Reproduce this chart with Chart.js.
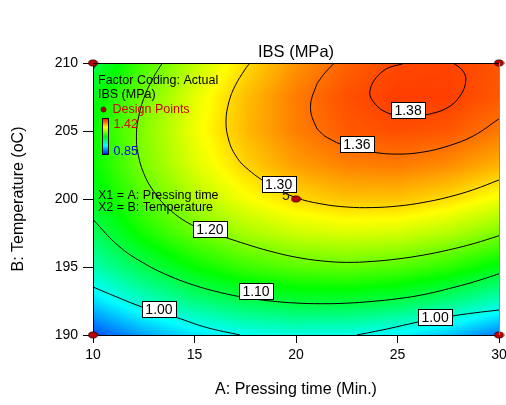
<!DOCTYPE html>
<html><head><meta charset="utf-8">
<script src="https://cdn.jsdelivr.net/npm/chart.js@4.4.0/dist/chart.umd.min.js"></script>
<style>html,body{margin:0;padding:0;background:#fff;}canvas{display:block;}</style>
</head><body>
<canvas id="c" width="506" height="405"></canvas>
<script>
// ---- data ----
const timeGrid = [10, 12.5, 15, 17.5, 20, 22.5, 25, 27.5, 30];          // A: Pressing time (min)
const tempGrid = [190, 192.5, 195, 197.5, 200, 202.5, 205, 207.5, 210]; // B: Temperature (oC)
const ibsGrid = [                                                        // IBS (MPa), rows = temperature
  [0.893, 0.942, 0.977, 1.000, 1.010, 1.006, 0.990, 0.960, 0.918],
  [0.973, 1.025, 1.065, 1.092, 1.105, 1.106, 1.094, 1.068, 1.030],
  [1.037, 1.093, 1.137, 1.168, 1.185, 1.190, 1.181, 1.160, 1.126],
  [1.085, 1.146, 1.193, 1.228, 1.250, 1.258, 1.254, 1.236, 1.206],
  [1.118, 1.183, 1.234, 1.273, 1.298, 1.311, 1.311, 1.297, 1.271],
  [1.135, 1.204, 1.259, 1.302, 1.332, 1.348, 1.352, 1.342, 1.320],
  [1.137, 1.209, 1.269, 1.316, 1.349, 1.370, 1.377, 1.372, 1.353],
  [1.123, 1.199, 1.263, 1.313, 1.351, 1.376, 1.386, 1.385, 1.371],
  [1.093, 1.174, 1.241, 1.296, 1.337, 1.366, 1.380, 1.383, 1.373]
];
const xTicks = [10, 15, 20, 25, 30];
const yTicks = [190, 195, 200, 205, 210];
const designPoints = [[10, 190], [10, 210], [30, 190], [30, 210], [20, 200]];
const centerRuns = "5";
const colorLow = 0.85, colorHigh = 1.42;

const contour138 = [[25.37,210],[24.29,209.41],[23.64,207.94],[23.99,206.84],[24.75,206.2],[25.6,206.0],[26.45,206.2],[27.44,206.69],[28.08,207.57],[28.37,208.75],[28.18,209.49],[27.73,210]];
const contour136 = [[21.89,210],[21.5,209.4],[21.25,208.94],[21,208.33],[20.71,206.73],[21,205.28],[21.25,204.85],[21.5,204.55],[22.5,203.85],[23.75,203.45],[25,203.3],[26.25,203.45],[27.5,203.9],[28.75,204.65],[30,205.9]];
const contour130 = [[17.73,210],[17.5,209.55],[17,208.32],[16.7,207.16],[16.55,205.67],[16.7,204.26],[17,203.26],[17.5,202.35],[18.75,201.0],[20,200.1],[21.25,199.64],[22.5,199.41],[23.75,199.37],[25,199.48],[26.25,199.74],[27.5,200.14],[28.75,200.69],[30,201.4]];
const contour120 = [[13.42,210],[13,209.0],[12.5,207.4],[12.2,205.68],[12.14,204.57],[12.2,203.45],[12.5,201.88],[13,200.54],[13.75,199.25],[14.86,198.1],[16,197.45],[17.5,196.7],[18.75,196.15],[20,195.72],[21.25,195.45],[22.5,195.34],[23.75,195.41],[25,195.59],[26.25,195.87],[27.5,196.25],[28.75,196.72],[30,197.3]];
const contour110 = [[10,198.49],[11.25,196.56],[12.5,195.28],[13.75,194.35],[15,193.65],[16.25,193.13],[17.5,192.75],[18.75,192.5],[20,192.35],[21.25,192.3],[22.5,192.34],[23.75,192.47],[25,192.67],[26.25,192.96],[27.5,193.4],[28.75,193.9],[30,194.5]];
const contour110corner = [[10,209.5],[10.25,210.1]];
const contour100left = [[10,193.53],[11.13,192.82],[12.41,192.06],[13.25,191.68],[14.09,191.3],[15.6,190.55],[17.24,190.0]];
const contour100right = [[23.0,190.0],[24.5,190.45],[26,190.95],[27.5,191.35],[28.75,191.62],[30,191.84]];

const labelText = ["1.38", "1.36", "1.30", "1.20", "1.10", "1.00", "1.00"];
const labelTime = [25.52, 23.0, 19.14, 15.76, 18.03, 13.25, 26.85];
const labelTemp = [206.54, 204.04, 201.07, 197.76, 193.2, 191.91, 191.32];

// ---- helpers ----
const FONT = '"Liberation Sans", Arial, sans-serif';
Chart.defaults.font.family = FONT;
Chart.defaults.color = '#000';

function ibsAt(t, T) {
  const nx = timeGrid.length, ny = tempGrid.length;
  t = Math.min(Math.max(t, timeGrid[0]), timeGrid[nx - 1]);
  T = Math.min(Math.max(T, tempGrid[0]), tempGrid[ny - 1]);
  let i = 0; while (i < nx - 2 && t > timeGrid[i + 1]) i++;
  let j = 0; while (j < ny - 2 && T > tempGrid[j + 1]) j++;
  const u = (t - timeGrid[i]) / (timeGrid[i + 1] - timeGrid[i]);
  const v = (T - tempGrid[j]) / (tempGrid[j + 1] - tempGrid[j]);
  return ibsGrid[j][i] * (1 - u) * (1 - v) + ibsGrid[j][i + 1] * u * (1 - v) +
         ibsGrid[j + 1][i] * (1 - u) * v + ibsGrid[j + 1][i + 1] * u * v;
}
function cmap(val) {
  let f = (val - colorLow) / (colorHigh - colorLow);
  f = Math.min(Math.max(f, 0), 1);
  if (f < 0.25) return [0, 255 * f / 0.25, 255];
  if (f < 0.5) return [0, 255, 255 * (1 - (f - 0.25) / 0.25)];
  if (f < 0.75) return [255 * (f - 0.5) / 0.25, 255, 0];
  return [255, 255 * (1 - (f - 0.75) / 0.25), 0];
}
const toXY = arr => arr.map(p => ({x: p[0], y: p[1]}));

// design point marker (small dark red ellipse)
const marker = document.createElement('canvas');
marker.width = 11; marker.height = 8;
(function () {
  const m = marker.getContext('2d');
  m.beginPath(); m.ellipse(5.5, 4, 4.5, 3, 0, 0, Math.PI * 2);
  m.fillStyle = '#c00000'; m.fill();
  m.lineWidth = 1; m.strokeStyle = '#400000'; m.stroke();
})();

const surfacePlugin = {
  id: 'surface',
  beforeDraw(chart) {
    const {ctx, chartArea: a, scales: {x, y}} = chart;
    const w = Math.round(a.right - a.left), h = Math.round(a.bottom - a.top);
    const off = document.createElement('canvas'); off.width = w; off.height = h;
    const o = off.getContext('2d'); const img = o.createImageData(w, h);
    for (let j = 0; j < h; j++) {
      const T = y.getValueForPixel(a.top + j + 0.5);
      for (let i = 0; i < w; i++) {
        const t = x.getValueForPixel(a.left + i + 0.5);
        const c = cmap(ibsAt(t, T));
        const k = (j * w + i) * 4;
        img.data[k] = c[0]; img.data[k + 1] = c[1]; img.data[k + 2] = c[2]; img.data[k + 3] = 255;
      }
    }
    o.putImageData(img, 0, 0);
    ctx.drawImage(off, a.left, a.top);
  },
  afterDatasetsDraw(chart) {
    const {ctx, chartArea: a, scales: {x, y}} = chart;
    ctx.save();
    // frame top / right
    ctx.lineWidth = 1;
    ctx.strokeStyle = '#000';
    ctx.beginPath(); ctx.moveTo(a.left, a.top + 0.5); ctx.lineTo(a.right, a.top + 0.5); ctx.stroke();
    ctx.strokeStyle = '#8a8a8a';
    ctx.beginPath(); ctx.moveTo(a.right + 0.5, a.top); ctx.lineTo(a.right + 0.5, a.bottom); ctx.stroke();
    // contour labels
    ctx.font = '14px ' + FONT;
    ctx.textAlign = 'center'; ctx.textBaseline = 'middle';
    for (let k = 0; k < labelText.length; k++) {
      const px = x.getPixelForValue(labelTime[k]);
      const py = y.getPixelForValue(labelTemp[k]);
      const bw = 34, bh = 16;
      const bx = Math.round(px - bw / 2) + 0.5, by = Math.round(py - bh / 2) + 0.5;
      ctx.fillStyle = '#fff'; ctx.fillRect(bx, by, bw, bh);
      ctx.strokeStyle = '#000'; ctx.strokeRect(bx, by, bw, bh);
      ctx.fillStyle = '#000'; ctx.fillText(labelText[k], px, py + 1);
    }
    ctx.restore();
  },
  afterDraw(chart) {
    const {ctx, chartArea: a, scales: {x, y}} = chart;
    ctx.save();
    // title
    ctx.fillStyle = '#000';
    ctx.font = '16.5px ' + FONT; ctx.textAlign = 'center'; ctx.textBaseline = 'alphabetic';
    ctx.fillText('IBS (MPa)', (a.left + a.right) / 2, 56.5);
    // replicate count at the centre point
    ctx.font = '14px ' + FONT; ctx.fillStyle = '#222';
    ctx.textBaseline = 'middle';
    ctx.fillText(centerRuns, x.getPixelForValue(designPoints[4][0]) - 10, y.getPixelForValue(designPoints[4][1]) - 2.5);
    // legend block
    ctx.textAlign = 'left'; ctx.textBaseline = 'alphabetic';
    ctx.font = '12.5px ' + FONT; ctx.fillStyle = '#000';
    ctx.fillText('Factor Coding: Actual', 98, 84);
    ctx.fillText('IBS (MPa)', 98, 98);
    ctx.beginPath(); ctx.arc(103.5, 109.5, 2.5, 0, Math.PI * 2);
    ctx.fillStyle = '#b00000'; ctx.fill(); ctx.strokeStyle = '#500000'; ctx.lineWidth = 0.8; ctx.stroke();
    ctx.fillStyle = '#d00000';
    ctx.fillText('Design Points', 112.5, 112.5);
    // colour bar
    const bx = 102, by = 118, bw = 7, bh = 37;
    for (let r = 0; r < bh; r++) {
      const c = cmap(colorHigh - (r + 0.5) / bh * (colorHigh - colorLow));
      ctx.fillStyle = 'rgb(' + c.map(Math.round).join(',') + ')';
      ctx.fillRect(bx, by + r, bw, 1);
    }
    ctx.strokeStyle = '#000'; ctx.lineWidth = 1;
    ctx.strokeRect(bx + 0.5, by + 0.5, bw - 1, bh - 1);
    ctx.fillStyle = '#e00000'; ctx.fillText(colorHigh.toFixed(2), 113.5, 127.5);
    ctx.fillStyle = '#0000e0'; ctx.fillText(colorLow.toFixed(2), 113.5, 155);
    ctx.fillStyle = '#000';
    ctx.fillText('X1 = A: Pressing time', 98, 199);
    ctx.fillText('X2 = B: Temperature', 98, 210.5);
    ctx.restore();
  }
};

const contourSets = [contour138, contour136, contour130, contour120, contour110, contour110corner, contour100left, contour100right];

new Chart(document.getElementById('c'), {
  type: 'scatter',
  data: {
    datasets: [
      {
        data: toXY(designPoints), pointStyle: marker, pointRadius: 5, clip: false, showLine: false
      },
      ...contourSets.map(c => ({
        data: toXY(c), showLine: true, borderColor: '#000', borderWidth: 1,
        pointRadius: 0, tension: 0.4, fill: false
      }))
    ]
  },
  options: {
    responsive: false, animation: false, events: [],
    layout: {padding: {top: 63, right: 7, bottom: 0, left: 0}},
    plugins: {legend: {display: false}, tooltip: {enabled: false}, title: {display: false}},
    scales: {
      x: {
        type: 'linear', min: 10, max: 30,
        afterBuildTicks: s => { s.ticks = xTicks.map(v => ({value: v})); },
        afterFit: s => { s.height = 70; s.paddingLeft = 0; s.paddingRight = 0; },
        ticks: {font: {size: 14}, color: '#000', padding: 3.6, maxRotation: 0},
        grid: {drawOnChartArea: false, drawTicks: true, tickLength: 8, tickColor: '#000'},
        border: {display: true, color: '#000', width: 1},
        title: {display: true, text: 'A: Pressing time (Min.)', color: '#000', font: {size: 16}, padding: {top: 17, bottom: 5.4}}
      },
      y: {
        type: 'linear', min: 190, max: 210,
        afterBuildTicks: s => { s.ticks = yTicks.map(v => ({value: v})); },
        afterFit: s => { s.width = 93; s.paddingTop = 0; s.paddingBottom = 0; },
        ticks: {font: {size: 14}, color: '#000', padding: 5},
        grid: {drawOnChartArea: false, drawTicks: true, tickLength: 10, tickColor: '#000'},
        border: {display: true, color: '#000', width: 1},
        title: {display: true, text: 'B: Temperature (oC)', color: '#000', font: {size: 16}, padding: {top: 9.4, bottom: 26}}
      }
    }
  },
  plugins: [surfacePlugin]
});
</script>
</body></html>
